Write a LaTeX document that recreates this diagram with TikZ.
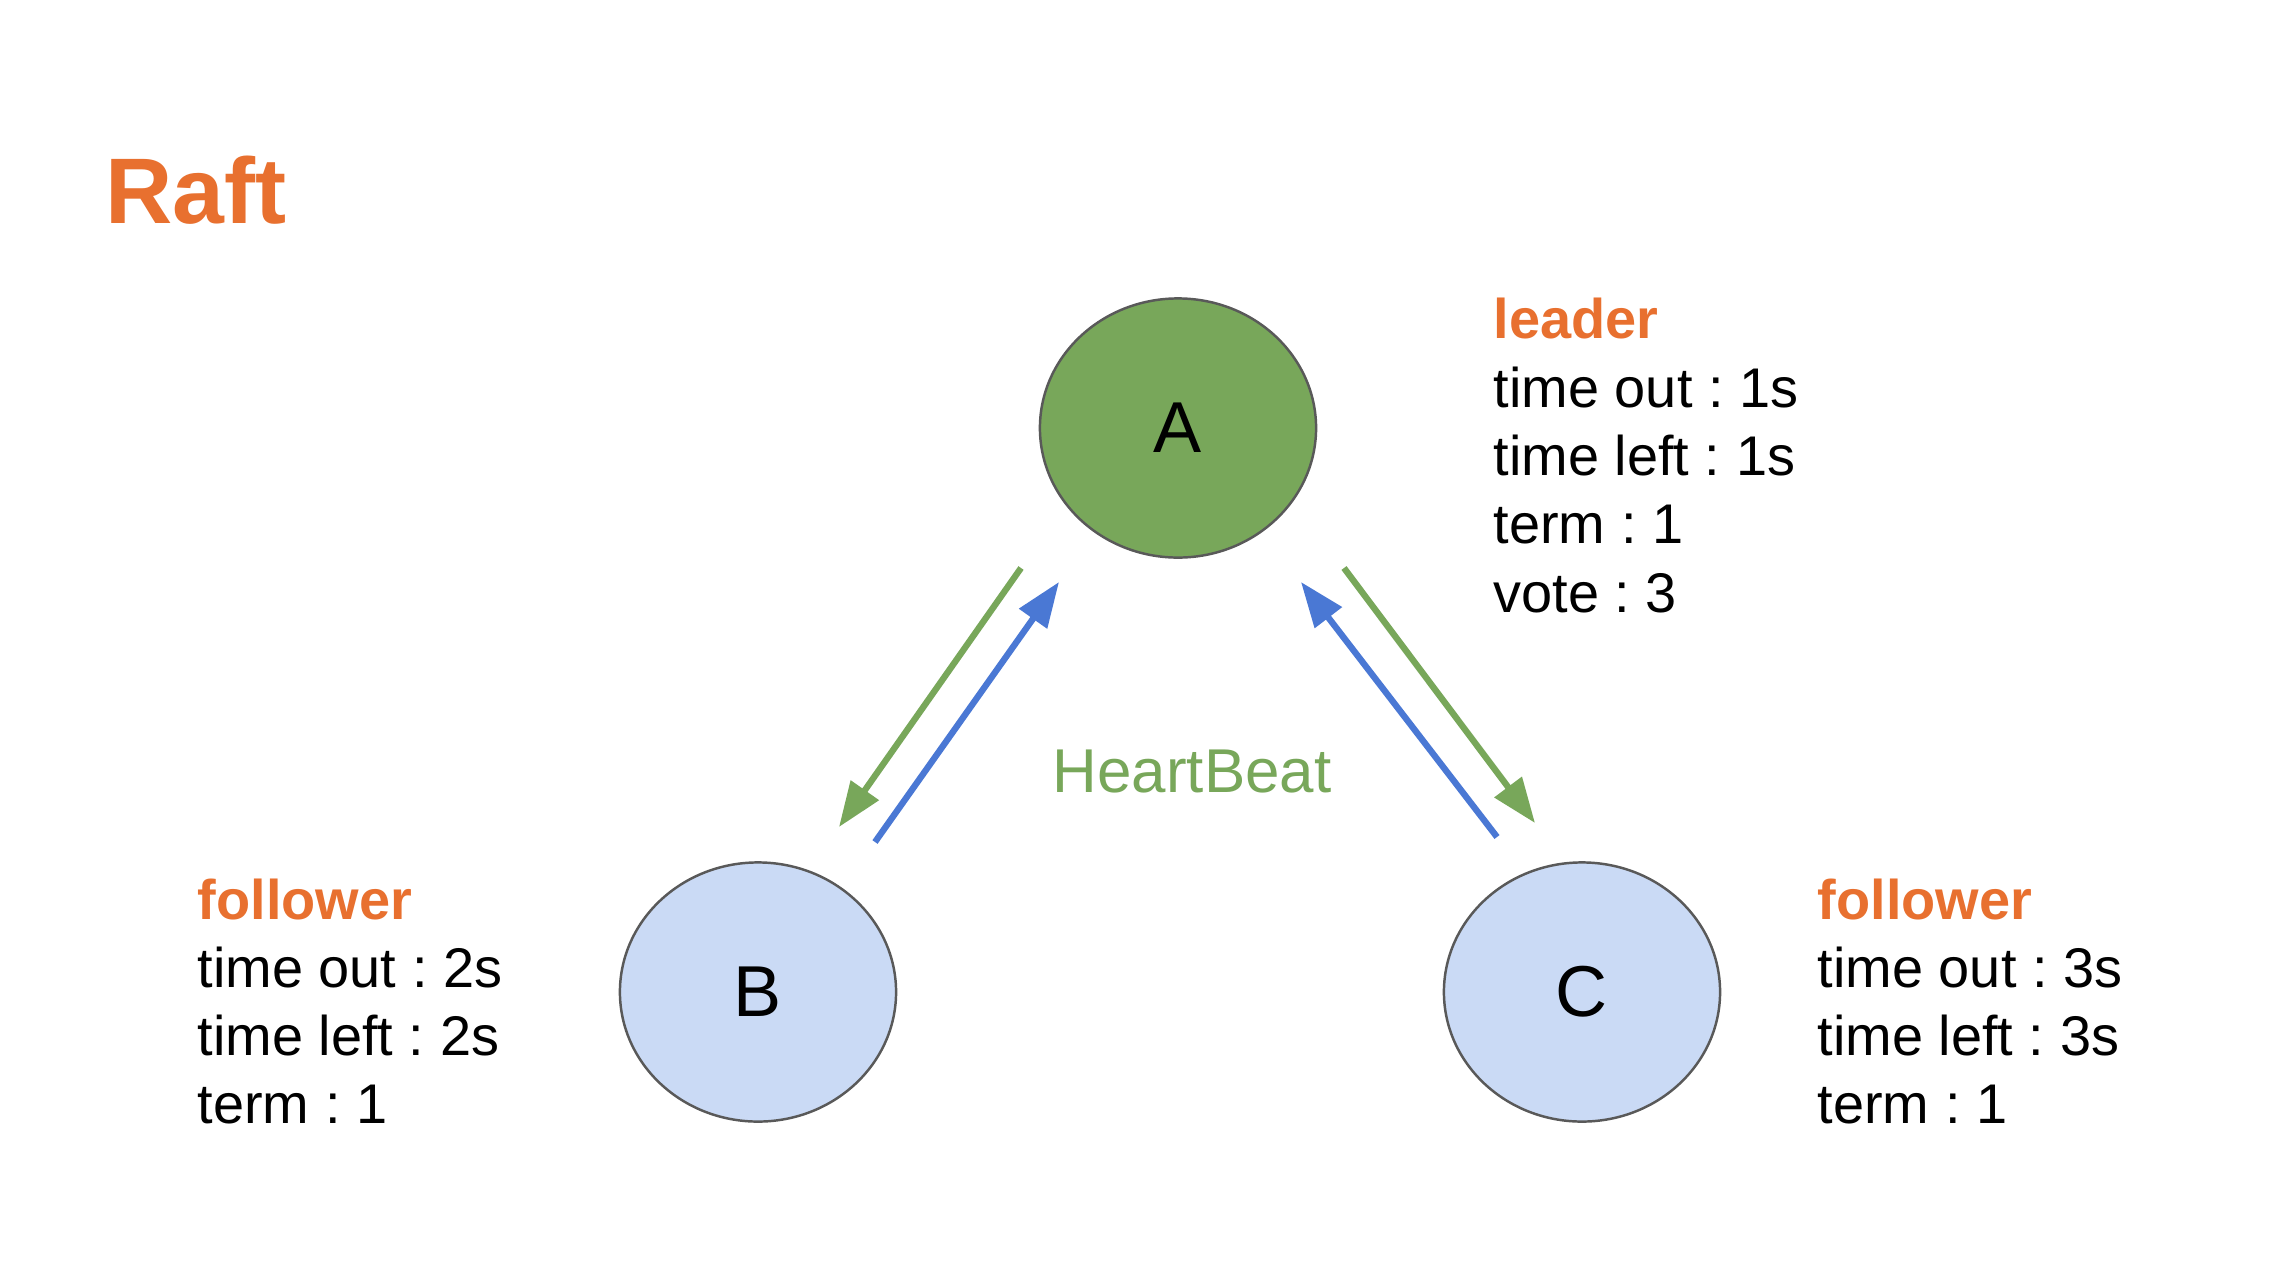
\documentclass[tikz,border=0pt]{standalone}
\usepackage{fontspec}
\setmainfont{Liberation Sans}
\usetikzlibrary{shapes.geometric,arrows.meta}
\frenchspacing

\definecolor{raftorange}{HTML}{E8702F}
\definecolor{leadgreen}{HTML}{78A75A}
\definecolor{votblue}{HTML}{4A78D4}
\definecolor{follfill}{HTML}{CADAF5}
\definecolor{rimgray}{HTML}{595959}

\tikzset{
	server/.style={ellipse, draw=rimgray, line width=0.7pt, minimum width=2.76cm, minimum height=2.59cm, inner sep=0pt, font=\fontsize{20.5}{24}\selectfont},
	info/.style={anchor=base west, inner sep=0pt, font=\fontsize{15.9}{19}\selectfont},
	role/.style={info, text=raftorange, font=\fontsize{15.9}{19}\selectfont\bfseries},
	msg/.style={line width=1.8pt, -{Triangle[length=12.8pt, width=9.4pt]}}
}

\begin{document}
\begin{tikzpicture}[x=0.01cm, y=-0.01cm]
			\useasboundingbox[fill=white] (0,0) rectangle (2278,1278);

			\node[anchor=base west, inner sep=0pt, text=raftorange, font=\fontsize{26.5}{30}\selectfont\bfseries] (title) at(105,223){Raft};

			% servers
			\node[server, fill=leadgreen] (A) at(1178,428){A};
			\node[server, fill=follfill] (B) at(758,992){B};
			\node[server, fill=follfill] (C) at(1582,992){C};

			% message ends
			\coordinate (ABs) at(1021,568);
				\coordinate (ABe) at(839,827);
			\coordinate (BAs) at(875,842);
				\coordinate (BAe) at(1059,582);
			\coordinate (ACs) at(1344,568);
				\coordinate (ACe) at(1535,823);
			\coordinate (CAs) at(1497,837);
				\coordinate (CAe) at(1301,582);

			\draw[msg, leadgreen] (ABs) to (ABe);
			\draw[msg, votblue] (BAs) to (BAe);
			\draw[msg, leadgreen] (ACs) to (ACe);
			\draw[msg, votblue] (CAs) to (CAe);

			\node[anchor=base west, inner sep=0pt, text=leadgreen, font=\fontsize{17.6}{21}\selectfont] (beat) at(1052,792){HeartBeat};

			% leader A
			\node[role] (Arole) at(1493,338){leader};
			\node[info] (Aout) at(1493,407){time out : 1s};
			\node[info] (Aleft) at(1493,475){time left : 1s};
			\node[info] (Aterm) at(1493,543){term : 1};
			\node[info] (Avote) at(1493,612){vote : 3};

			% follower B
			\node[role] (Brole) at(197,919){follower};
			\node[info] (Bout) at(197,987){time out : 2s};
			\node[info] (Bleft) at(197,1055){time left : 2s};
			\node[info] (Bterm) at(197,1123){term : 1};

			% follower C
			\node[role] (Crole) at(1817,919){follower};
			\node[info] (Cout) at(1817,987){time out : 3s};
			\node[info] (Cleft) at(1817,1055){time left : 3s};
			\node[info] (Cterm) at(1817,1123){term : 1};

		\end{tikzpicture}
\end{document}
